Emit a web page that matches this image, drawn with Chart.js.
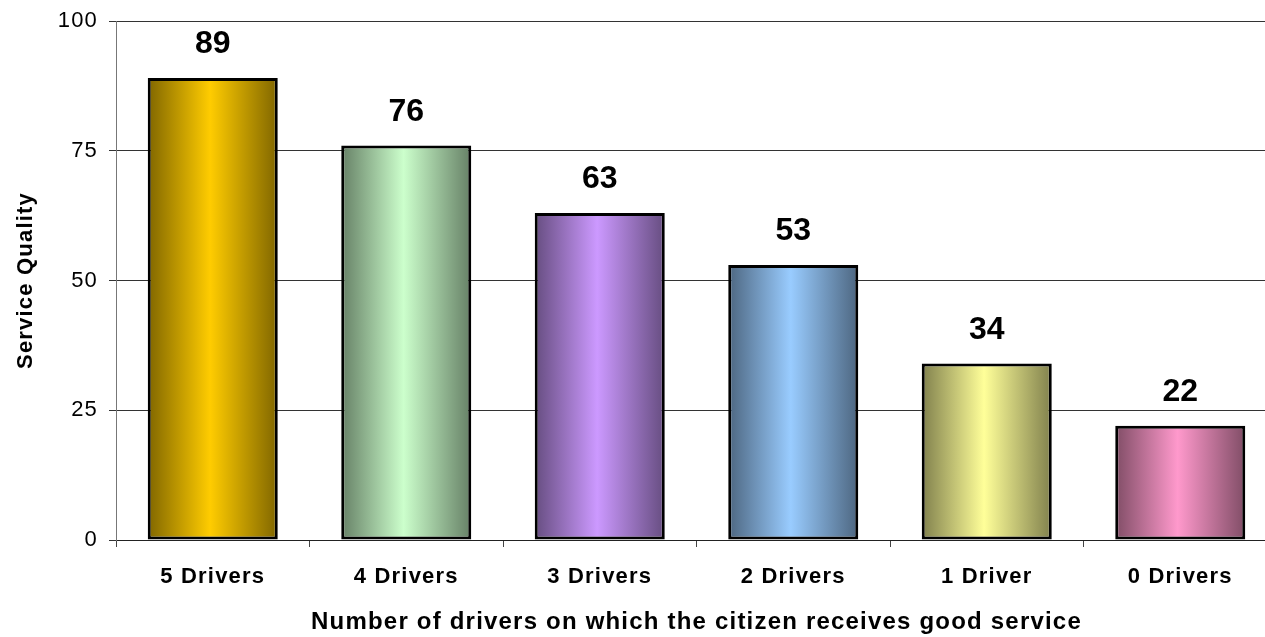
<!DOCTYPE html>
<html>
<head>
<meta charset="utf-8">
<script src="https://cdn.jsdelivr.net/npm/chart.js@4/dist/chart.umd.min.js"></script>
<style>
  html, body { margin: 0; padding: 0; background: #fff; overflow: hidden; }
  canvas { display: block; }
</style>
</head>
<body>
<canvas id="driversChart" width="1280" height="637"></canvas>
<script>
// categories and values
const categories = ['5 Drivers', '4 Drivers', '3 Drivers', '2 Drivers', '1 Driver', '0 Drivers'];
const serviceQuality = [89, 76, 63, 53, 34, 22];
// light colour of each bar (edges are shaded darker)
const barColors = ['#FFCC00', '#CCFFCC', '#CC99FF', '#99CCFF', '#FFFF99', '#FF99CC'];
const yTicks = [0, 25, 50, 75, 100];

const FONT = '"Liberation Sans", Arial, sans-serif';
const SPACING = '1.2px';

function shade(hex, f) {
    const n = parseInt(hex.slice(1), 16);
    const r = Math.round(((n >> 16) & 255) * f);
    const g = Math.round(((n >> 8) & 255) * f);
    const b = Math.round((n & 255) * f);
    return `rgb(${r},${g},${b})`;
}

// wide letter spacing for all axis text
const spacingPlugin = {
    id: 'spacing',
    beforeUpdate(chart) { chart.ctx.letterSpacing = SPACING; },
    beforeDraw(chart) { chart.ctx.letterSpacing = SPACING; }
};

// horizontal dark-light-dark shading on each bar
const shadingPlugin = {
    id: 'shading',
    beforeDatasetsDraw(chart) {
        const ctx = chart.ctx;
        chart.getDatasetMeta(0).data.forEach((bar, i) => {
            const left = bar.x - bar.width / 2;
            const right = bar.x + bar.width / 2;
            const grad = ctx.createLinearGradient(left, 0, right, 0);
            grad.addColorStop(0, shade(barColors[i], 0.5));
            grad.addColorStop(0.48, barColors[i]);
            grad.addColorStop(1, shade(barColors[i], 0.5));
            bar.options.backgroundColor = grad;
        });
    }
};

// value above each bar
const valueLabels = {
    id: 'valueLabels',
    afterDatasetsDraw(chart) {
        const ctx = chart.ctx;
        ctx.save();
        ctx.letterSpacing = '0px';
        ctx.font = `bold 32px ${FONT}`;
        ctx.fillStyle = '#000';
        ctx.textAlign = 'center';
        ctx.textBaseline = 'alphabetic';
        chart.getDatasetMeta(0).data.forEach((bar, i) => {
            ctx.fillText(serviceQuality[i], bar.x, bar.y - 25);
        });
        ctx.restore();
    }
};

new Chart(document.getElementById('driversChart'), {
    type: 'bar',
    data: {
        labels: categories,
        datasets: [{
            data: serviceQuality,
            backgroundColor: barColors,
            borderColor: '#000',
            borderWidth: 3,
            borderSkipped: false,
            barPercentage: 0.672,
            categoryPercentage: 1
        }]
    },
    options: {
        responsive: false,
        animation: false,
        layout: { padding: { top: 21, right: 3, left: 0, bottom: 0 } },
        plugins: {
            legend: { display: false },
            tooltip: { enabled: false }
        },
        scales: {
            x: {
                afterFit(scale) { scale.height = 97; },
                border: { color: '#222', width: 1 },
                grid: {
                    drawOnChartArea: false,
                    drawTicks: true,
                    tickLength: 7,
                    color: '#444'
                },
                ticks: {
                    color: '#000',
                    padding: 17,
                    maxRotation: 0,
                    font: { family: FONT, size: 22, weight: 'bold' }
                },
                title: {
                    display: true,
                    text: 'Number of drivers on which the citizen receives good service',
                    color: '#000',
                    padding: { top: 0, bottom: 0 },
                    font: { family: FONT, size: 24, weight: 'bold' }
                }
            },
            y: {
                min: 0,
                max: 100,
                afterFit(scale) {
                    scale.width = 116;
                    scale.paddingTop = 0;
                    scale.paddingBottom = 0;
                },
                afterBuildTicks(scale) { scale.ticks = yTicks.map(v => ({ value: v })); },
                border: { color: '#777', width: 1 },
                grid: {
                    color: '#333',
                    lineWidth: 1,
                    tickLength: 7
                },
                ticks: {
                    color: '#000',
                    padding: 11,
                    font: { family: FONT, size: 22 }
                },
                title: {
                    display: true,
                    text: 'Service Quality',
                    color: '#000',
                    padding: { top: 13, bottom: 0 },
                    font: { family: FONT, size: 22, weight: 'bold' }
                }
            }
        }
    },
    plugins: [spacingPlugin, shadingPlugin, valueLabels]
});
</script>
</body>
</html>
